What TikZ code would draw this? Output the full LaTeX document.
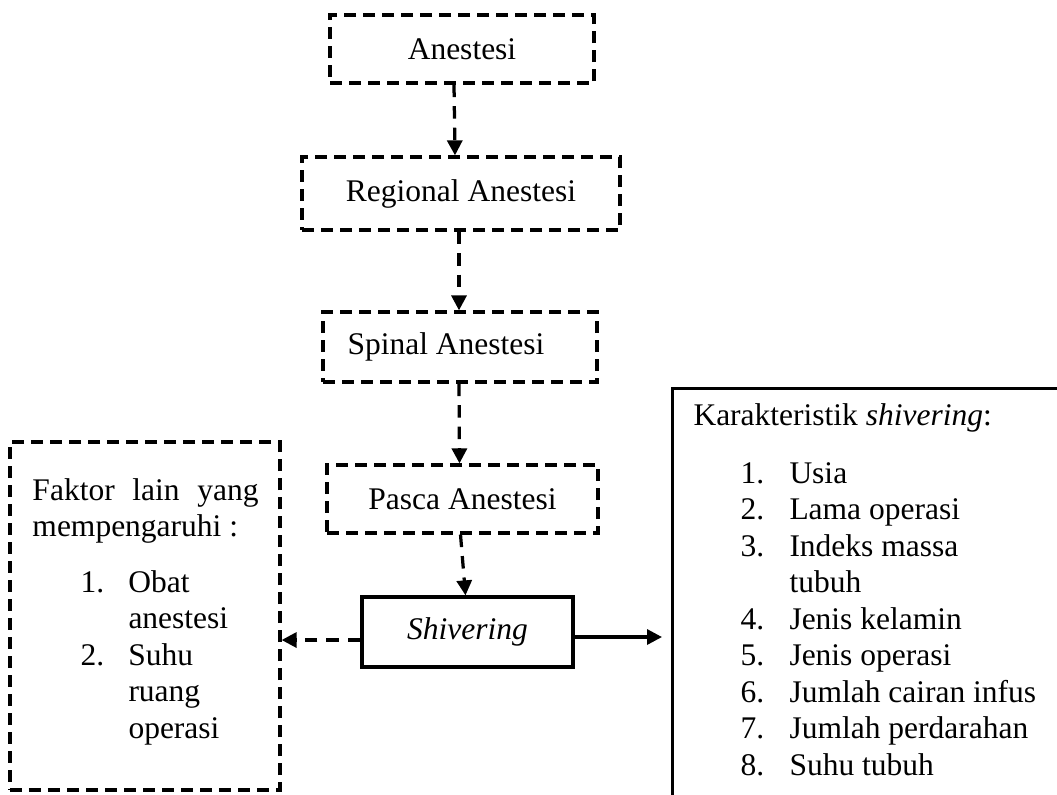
\documentclass[tikz,border=0pt]{standalone}
\usepackage{fontspec}
\setmainfont{Liberation Serif}
\usetikzlibrary{arrows.meta, calc}
\tikzset{
  dbox/.style={draw, line width=1.3pt, dash pattern=on 4.8pt off 2.8pt,
               inner sep=0pt, font=\fontsize{12.6}{14.6}\selectfont},
  sbox/.style={draw, line width=1.3pt, inner sep=0pt,
               font=\fontsize{12.6}{14.6}\selectfont},
  darr/.style={-{Triangle[width=6pt,length=6pt]}, line width=1.3pt,
               dash pattern=on 5pt off 3.6pt},
  sarr/.style={-{Triangle[width=6pt,length=6pt]}, line width=1.3pt},
  txt/.style={inner sep=0pt, font=\fontsize{12.6}{14.6}\selectfont},
}
\begin{document}
\begin{tikzpicture}[x=0.4pt, y=-0.4pt]
  \useasboundingbox (0,0) rectangle (1057,794);
  \clip (0,0) rectangle (1057,794);
  % chain
  \node[dbox, minimum width=105.6pt, minimum height=27.2pt] (anes) at (462,49) {Anestesi};
  \node[dbox, minimum width=127.2pt, minimum height=29.2pt] (reg) at (461,193.5) {Regional Anestesi};
  \node[dbox, minimum width=109.6pt, minimum height=28pt] (spin) at (460,347)
    {Spinal Anestesi\hspace*{11.2pt}};
  \node[dbox, minimum width=108.4pt, minimum height=27.2pt] (pasca) at (462.5,499) {Pasca Anestesi};
  \node[sbox, minimum width=84.4pt, minimum height=28pt] (shiv) at (467.5,632) {\textit{Shivering}};

  % side boxes
  \node[dbox, minimum width=108pt, minimum height=139.2pt] (fakt) at (145,616) {};
  \node[sbox, anchor=north west, minimum width=171.6pt, minimum height=177.2pt] (karak) at (671,387) {};

  % left texts
  \node[txt, anchor=base west] (faktHead) at (32,500)
    {\begin{tabular}[t]{@{}l@{}}\makebox[90.4pt][s]{Faktor lain yang}\\ mempengaruhi :\end{tabular}};
  \node[txt, anchor=base west] (faktList) at (80,592)
    {\begin{tabular}[t]{@{}p{19.2pt}@{}l@{}}
      1. & Obat\\ & anestesi\\ 2. & Suhu\\ & ruang\\ & operasi
    \end{tabular}};

  % right texts
  \node[txt, anchor=base west] (karakHead) at (693,425) {Karakteristik \textit{shivering}:};
  \node[txt, anchor=base west] (karakList) at (740,483)
    {\begin{tabular}[t]{@{}p{19.6pt}@{}l@{}}
      1. & Usia\\ 2. & Lama operasi\\ 3. & Indeks massa\\ & tubuh\\
      4. & Jenis kelamin\\ 5. & Jenis operasi\\ 6. & Jumlah cairan infus\\
      7. & Jumlah perdarahan\\ 8. & Suhu tubuh
    \end{tabular}};

  % arrows
  \draw[darr] ($(anes.south)+(-8,0)$) -- ($(reg.north)+(-6,0)$);
  \draw[darr] ($(reg.south)+(-2,0)$) -- ($(spin.north)+(-1,0)$);
  \draw[darr] ($(spin.south)+(-1,0)$) -- ($(pasca.north)+(-3,0)$);
  \draw[darr] ($(pasca.south)+(-2,0)$) -- ($(shiv.north)+(-2,0)$);
  \coordinate (lft) at ($(shiv.west)+(0,8)$);
  \draw[darr] (lft) -- (lft -| fakt.east);
  \coordinate (rgt) at ($(shiv.east)+(0,5)$);
  \coordinate (rtip) at ($(rgt -| karak.west)+(-9,0)$);
  \draw[sarr] (rgt) -- (rtip);
\end{tikzpicture}
\end{document}
